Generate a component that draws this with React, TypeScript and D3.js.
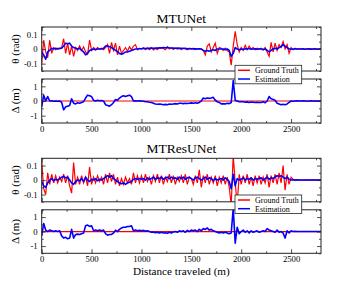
import * as d3 from 'd3';
import { useEffect, useRef } from 'react';

// distance traveled (m), one sample every 20 m
const distance = d3.range(0, 2801, 20);

const mtunetThetaTruth = [
  -0.1, 0.06, -0.02, -0.06, 0.06, -0.03, 0.01, -0.005, 0.005, 0,
  0.01, 0.07, -0.03, 0.04, -0.04, 0.02, -0.05, 0.01, -0.01, 0.02,
  -0.01, 0.015, -0.02, -0.035, 0.06, -0.01, 0.01, -0.005, 0.01, 0,
  0.005, -0.005, 0.01, 0.03, -0.03, 0.045, -0.01, 0.04, -0.04, 0.02,
  -0.03, -0.01, 0.01, -0.015, 0.015, -0.005, 0.02, 0.03, -0.005, 0.005,
  0, 0.008, -0.005, 0.006, -0.004, 0.01, -0.006, 0.004, -0.003, 0.006,
  0.005, 0.004, -0.005, 0.015, 0, 0.008, -0.004, 0.006, 0, 0.005,
  -0.004, 0.006, 0.002, -0.005, 0.004, 0, 0.005, -0.004, 0.003, 0,
  0, -0.01, -0.04, 0.02, 0.035, -0.02, 0.01, 0.04, -0.03, 0.01,
  0.005, -0.01, 0.005, -0.01, -0.02, -0.11, 0.02, 0.12, 0.03, -0.02,
  0.01, -0.01, 0.025, -0.005, 0.02, 0, 0.01, -0.005, 0.005, 0,
  0.005, -0.005, 0.01, -0.02, -0.05, 0.045, -0.02, 0.04, -0.01, 0.03,
  0.01, 0.05, 0, 0.03, -0.03, 0.01, -0.005, 0.005, -0.003, 0.004,
  -0.003, 0.003, -0.002, 0.003, -0.002, 0.002, -0.002, 0.002, -0.001, 0.001,
  0,
];

const mtunetThetaEst = [
  -0.02, -0.04, -0.07, -0.02, -0.01, 0.005, 0, 0.005, 0, 0.005,
  0.005, 0.02, 0.04, 0.035, 0.04, 0.02, 0.01, 0.005, 0, 0.005,
  -0.01, -0.02, -0.04, -0.03, -0.01, -0.005, 0, -0.005, 0, 0,
  0, 0.005, 0.02, 0.02, 0.015, 0.01, 0, -0.01, -0.02, -0.03,
  -0.035, -0.03, -0.02, -0.02, -0.015, -0.01, -0.005, 0, 0, 0.002,
  0.002, 0.004, 0.003, 0.005, 0.004, 0.006, 0.005, 0.007, 0.006, 0.008,
  0.008, 0.01, 0.009, 0.01, 0.008, 0.007, 0.006, 0.005, 0.006, 0.004,
  0.005, 0.003, 0.004, 0.002, 0.003, 0.002, 0.001, 0.002, 0, 0.001,
  0, -0.01, -0.015, -0.01, -0.015, -0.01, -0.005, -0.01, 0, 0,
  0, 0, -0.005, 0, -0.01, -0.05, -0.03, 0.01, 0, -0.005,
  0, -0.003, 0.002, 0, 0.003, -0.002, 0, 0.002, -0.002, 0,
  0, -0.005, 0, -0.01, -0.02, -0.01, 0, 0.005, 0, 0.01,
  0.015, 0.03, 0.02, 0.01, 0, 0, -0.002, 0.002, 0, 0,
  0, 0.002, -0.002, 0, 0.002, -0.002, 0, 0.002, -0.002, 0,
  0,
];

const mtunetDeltaEst = [
  -0.4, 0.4, 0, 0.3, 0, 0.02, -0.02, 0, -0.02, 0,
  -0.1, -0.6, -0.4, -0.35, -0.3, 0.15, -0.15, -0.2, -0.12, -0.15,
  -0.1, -0.05, 0.2, 0.4, 0.35, 0.3, 0.05, 0, 0.05, 0.02,
  0.03, 0, -0.25, -0.3, -0.35, -0.25, -0.1, 0.1, 0.05, 0.2,
  0.3, 0.35, 0.3, 0.35, 0.4, 0.3, 0, 0.02, 0, 0.01,
  0, -0.02, -0.05, -0.05, -0.08, -0.1, -0.15, -0.2, -0.22, -0.2,
  -0.22, -0.25, -0.23, -0.25, -0.2, -0.22, -0.2, -0.18, -0.2, -0.15,
  -0.15, -0.18, -0.15, -0.17, -0.15, -0.13, -0.15, -0.12, -0.15, -0.1,
  0, 0.2, 0.15, 0.2, 0.18, 0.2, 0.25, 0.05, -0.05, -0.1,
  -0.2, -0.18, -0.2, -0.15, -0.18, -0.1, 1.4, 0.05, 0, -0.05,
  -0.05, -0.05, -0.08, -0.06, -0.1, -0.07, -0.08, -0.1, -0.08, -0.1,
  -0.1, -0.05, -0.12, 0, 0.3, 0.15, 0.1, 0.05, -0.15, -0.2,
  -0.25, -0.22, -0.25, -0.2, -0.1, 0, -0.02, 0, 0.02, 0,
  0, 0.02, 0, -0.02, 0, 0.01, 0, -0.01, 0, 0,
  0,
];

const mtresThetaTruth = [
  0.13, -0.06, -0.1, 0.05, -0.03, 0.04, -0.02, 0.03, -0.02, 0.02,
  -0.01, 0.04, -0.02, 0.03, -0.04, -0.09, 0.12, -0.03, 0.02, -0.03,
  0.03, -0.02, 0.02, -0.04, 0.09, -0.03, 0.02, -0.02, 0.03, -0.01,
  0.02, -0.03, 0.04, -0.02, 0.05, -0.01, 0.04, -0.03, 0.02, -0.04,
  0.01, -0.03, 0.02, -0.02, 0.01, -0.03, 0.05, -0.02, 0.03, -0.02,
  0.03, -0.02, 0.04, -0.01, 0.02, -0.03, 0.03, -0.01, 0.04, -0.02,
  0.03, -0.03, 0.02, -0.01, 0.04, -0.02, 0.03, -0.03, 0.02, -0.01,
  0.03, -0.02, 0.04, -0.03, 0.02, 0.01, -0.03, 0.03, -0.02, 0.07,
  -0.05, 0.03, -0.02, 0.04, -0.03, 0.02, -0.02, 0.03, -0.04, 0.02,
  -0.02, 0.03, -0.03, 0.02, -0.05, -0.17, 0.17, -0.02, -0.17, 0.04,
  -0.03, 0.03, -0.02, 0.04, -0.03, 0.02, -0.04, 0.03, -0.02, 0.03,
  -0.03, 0.02, -0.02, 0.04, -0.05, 0.03, -0.02, 0.04, -0.03, 0.05,
  -0.02, 0.1, -0.07, 0.04, -0.03, 0.02, 0.005, -0.003, 0.003, -0.002,
  0.002, -0.002, 0.001, -0.001, 0.001, -0.001, 0.001, 0, 0, 0,
  0,
];

const mtresThetaEst = [
  -0.01, -0.04, -0.05, -0.02, 0, 0.01, -0.005, 0.005, 0, 0.01,
  0.02, 0.025, 0.015, 0.02, 0, -0.02, -0.03, -0.01, 0, -0.005,
  0.01, -0.01, 0.02, 0, -0.01, 0.005, 0, 0.01, -0.005, 0.005,
  0, 0.01, 0.02, 0.03, 0.02, 0.03, 0.01, 0, -0.01, -0.02,
  -0.025, -0.02, -0.03, -0.02, -0.015, -0.01, 0.005, 0.01, 0.005, 0.01,
  0.005, 0.01, 0, 0.015, 0.005, 0.01, 0.02, 0.005, 0.015, 0.01,
  0.02, 0.005, 0.015, 0.02, 0.01, 0.02, 0.01, 0.015, 0.005, 0.02,
  0.01, 0.02, 0.005, 0.015, 0.02, 0.01, 0, 0.015, 0.02, 0.01,
  0, 0.01, 0.02, 0.005, 0.015, 0.01, -0.005, 0.01, 0, 0.005,
  0.01, 0, 0.015, 0.005, -0.01, -0.06, 0.04, -0.04, 0.01, 0,
  0.005, 0.015, 0, 0.01, 0.005, 0.015, 0, 0.01, 0.005, 0.01,
  0.015, 0, 0.01, 0.02, 0.005, 0.015, 0.01, 0.02, 0.03, 0.025,
  0.03, 0.02, 0.01, 0.02, 0.005, 0, 0.002, 0, 0.001, 0,
  0, 0, 0, 0, 0, 0, 0, 0, 0, 0,
  0,
];

const mtresDeltaEst = [
  -0.3, 0.55, 0.1, 0, 0.1, 0.05, 0, 0.05, 0, 0.05,
  -0.3, -0.45, -0.4, -0.5, -0.45, 0.15, -0.45, -0.2, -0.18, -0.2,
  -0.15, -0.1, 0.4, 0.45, 0.35, 0.4, 0.05, 0.1, 0.05, 0.1,
  0.05, 0.1, -0.15, -0.25, -0.2, -0.2, -0.1, 0.1, 0, 0.15,
  0.25, 0.3, 0.3, 0.35, 0.35, 0.4, 0.05, 0.1, 0.05, 0.08,
  0.05, 0.08, 0.03, 0.05, 0, -0.05, -0.03, -0.08, -0.05, -0.1,
  -0.05, -0.1, -0.08, -0.12, -0.05, -0.1, -0.03, 0, -0.05, 0.05,
  0, 0.05, -0.05, 0.08, 0, 0.1, 0.05, 0.1, 0, 0.15,
  0.05, 0.2, 0.15, 0.25, 0.1, 0.15, 0.05, 0, -0.05, -0.1,
  -0.05, -0.1, -0.05, -0.1, -0.15, -0.1, 1.6, -0.8, 0.3, -0.15,
  0, 0.1, -0.05, 0.05, -0.1, 0.05, -0.05, 0, 0.05, -0.05,
  0, 0.05, 0, 0.2, 0.1, 0.05, 0, -0.05, 0.1, -0.05,
  0, -0.1, -0.45, 0.05, -0.1, 0.05, 0, 0.02, 0, 0,
  0, 0, 0, 0, 0, 0, 0, 0, 0, 0,
  0,
];

// ground truth offset is zero along the whole run
const deltaTruthDistance = [0, 2800];
const deltaTruth = [0, 0];

const xMajor = [0, 500, 1000, 1500, 2000, 2500];
const xMinor = [250, 750, 1250, 1750, 2250, 2750];
const thetaMajor = [-0.1, 0, 0.1];
const thetaMinor = [-0.15, -0.05, 0.05, 0.15];
const deltaMajor = [-1, 0, 1];
const deltaMinor = [-1.5, -0.5, 0.5, 1.5];

const titles = ['MTUNet', 'MTResUNet'];
const legendLabels = ['Ground Truth', 'Estimation'];

const FONT = "'Liberation Serif', 'Times New Roman', serif";
const RED = '#ff0000';
const BLUE = '#0000ff';
const left = 41.7;
const right = 321;

const x = d3.scaleLinear().domain([0, 2800]).range([left, right]);

const panels = [
  { id: 'p0', top: 27, h: 44, kind: 'theta', truth: [distance, mtunetThetaTruth], est: mtunetThetaEst, xLabels: false },
  { id: 'p1', top: 79, h: 44, kind: 'delta', truth: [deltaTruthDistance, deltaTruth], est: mtunetDeltaEst, xLabels: true },
  { id: 'p2', top: 158.3, h: 43.5, kind: 'theta', truth: [distance, mtresThetaTruth], est: mtresThetaEst, xLabels: false },
  { id: 'p3', top: 209.8, h: 43.5, kind: 'delta', truth: [deltaTruthDistance, deltaTruth], est: mtresDeltaEst, xLabels: true },
];

function App() {
  const svgRef = useRef(null);

  useEffect(() => {
    const svg = d3.select(svgRef.current);
    svg.selectAll('g.panel').remove();

    panels.forEach((p) => {
      const isTheta = p.kind === 'theta';
      const y = d3.scaleLinear()
        .domain(isTheta ? [-0.15, 0.15] : [-1.5, 1.5])
        .range([p.top + p.h, p.top]);
      const major = isTheta ? thetaMajor : deltaMajor;
      const minor = isTheta ? thetaMinor : deltaMinor;
      const g = svg.insert('g', '.legend').attr('class', 'panel');

      g.append('clipPath').attr('id', 'clip-' + p.id)
        .append('rect').attr('x', left).attr('y', p.top)
        .attr('width', right - left).attr('height', p.h);

      const line = d3.line().x((d) => x(d[0])).y((d) => y(d[1]));
      const lines = g.append('g').attr('clip-path', `url(#clip-${p.id})`);
      lines.append('path')
        .attr('d', line(d3.zip(p.truth[0], p.truth[1])))
        .attr('fill', 'none').attr('stroke', RED).attr('stroke-width', 1.2);
      lines.append('path')
        .attr('d', line(d3.zip(distance, p.est)))
        .attr('fill', 'none').attr('stroke', BLUE).attr('stroke-width', 1.6)
        .attr('stroke-linejoin', 'round');

      const fmt = (d) => String(d);
      const axes = [
        [d3.axisBottom(x).tickValues(xMajor).tickSize(-4).tickPadding(2.5).tickFormat(p.xLabels ? fmt : () => ''), `translate(0,${p.top + p.h})`],
        [d3.axisBottom(x).tickValues(xMinor).tickSize(-2).tickFormat(() => ''), `translate(0,${p.top + p.h})`],
        [d3.axisTop(x).tickValues(xMajor).tickSize(-4).tickFormat(() => ''), `translate(0,${p.top})`],
        [d3.axisTop(x).tickValues(xMinor).tickSize(-2).tickFormat(() => ''), `translate(0,${p.top})`],
        [d3.axisLeft(y).tickValues(major).tickSize(-4).tickPadding(4).tickFormat(fmt), `translate(${left},0)`],
        [d3.axisLeft(y).tickValues(minor).tickSize(-2).tickFormat(() => ''), `translate(${left},0)`],
        [d3.axisRight(y).tickValues(major).tickSize(-4).tickFormat(() => ''), `translate(${right},0)`],
        [d3.axisRight(y).tickValues(minor).tickSize(-2).tickFormat(() => ''), `translate(${right},0)`],
      ];
      axes.forEach(([axis, tr]) => {
        const a = g.append('g').attr('transform', tr).call(axis);
        a.select('.domain').remove();
        a.selectAll('line').attr('stroke', '#222').attr('stroke-width', 0.8);
        a.selectAll('text').attr('font-family', FONT).attr('font-size', 8.7).attr('fill', '#000');
      });

      g.append('rect')
        .attr('x', left).attr('y', p.top)
        .attr('width', right - left).attr('height', p.h)
        .attr('fill', 'none').attr('stroke', '#222').attr('stroke-width', 1);

      g.append('text')
        .attr('transform', `translate(19,${p.top + p.h / 2}) rotate(-90)`)
        .attr('text-anchor', 'middle')
        .attr('font-family', FONT).attr('font-size', 11)
        .text(isTheta ? 'θ (rad)' : 'Δ (m)');
    });
  }, []);

  const legendTops = [65.3, 195];

  return (
    <svg ref={svgRef} width={363} height={281} style={{ position: 'absolute', left: 0, top: 0, background: '#fff' }}>
      <text x={(left + right) / 2} y={22.5} textAnchor="middle" fontFamily={FONT} fontSize={13.5}>{titles[0]}</text>
      <text x={(left + right) / 2} y={153} textAnchor="middle" fontFamily={FONT} fontSize={13.5}>{titles[1]}</text>
      <text x={(left + right) / 2} y={275} textAnchor="middle" fontFamily={FONT} fontSize={11.2}>Distance traveled (m)</text>
      {legendTops.map((t, i) => (
        <g key={i} className="legend" transform={`translate(235,${t})`}>
          <rect x={0} y={0} width={66.7} height={18.5} fill="#fff" stroke="#222" strokeWidth={0.8} />
          {legendLabels.map((lab, j) => (
            <g key={lab} transform={`translate(0,${5 + j * 8.7})`}>
              <line x1={3} x2={15} y1={0} y2={0} stroke={j === 0 ? RED : BLUE} strokeWidth={1.5} />
              <text x={20} y={2.8} fontFamily={FONT} fontSize={8}>{lab}</text>
            </g>
          ))}
        </g>
      ))}
    </svg>
  );
}

export default App;
